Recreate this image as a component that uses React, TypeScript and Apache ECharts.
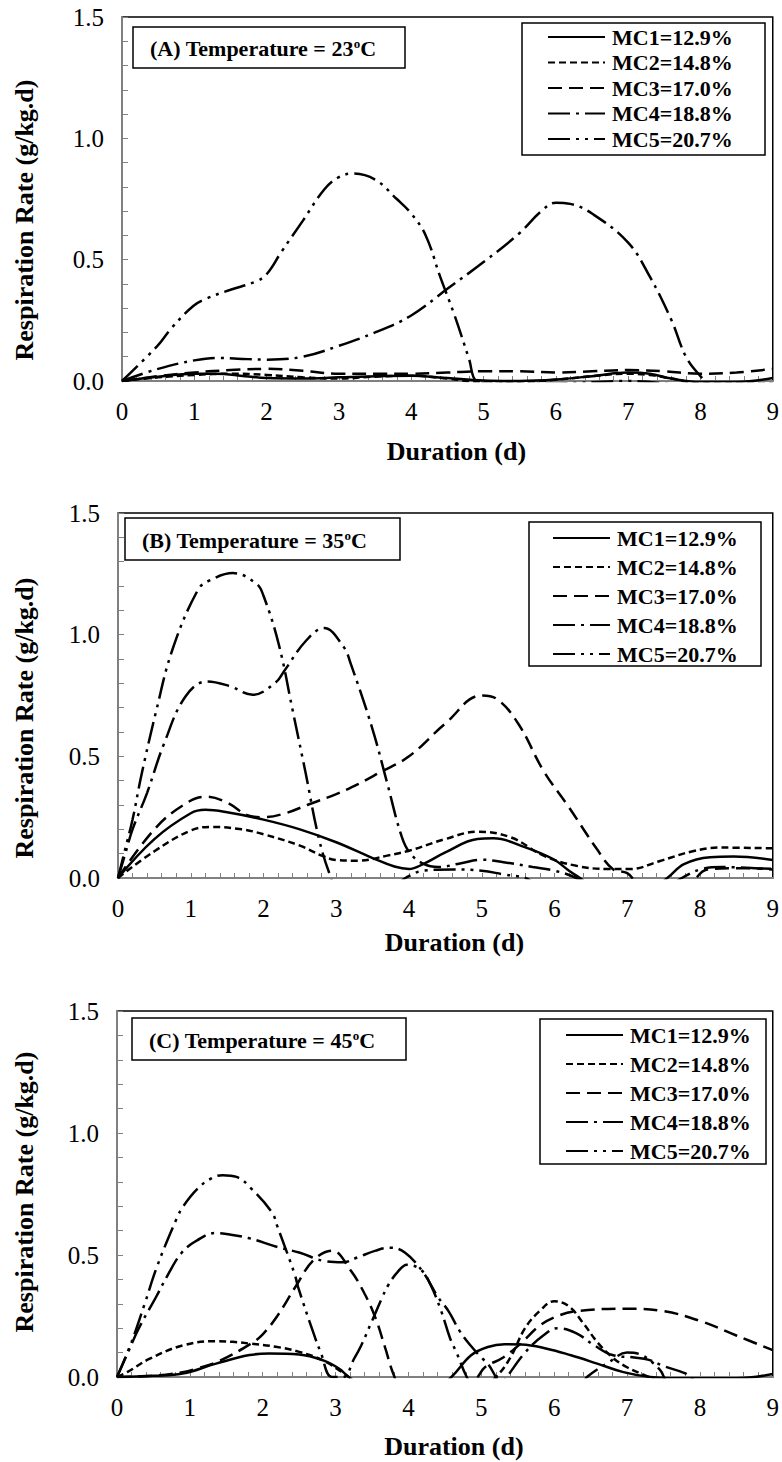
import React, { useEffect, useRef } from "react";
import * as echarts from "echarts";

const NAMES = ["MC1=12.9%", "MC2=14.8%", "MC3=17.0%", "MC4=18.8%", "MC5=20.7%"];
const PANEL_TEXT = ["(A) Temperature = 23{s|o}C", "(B) Temperature = 35{s|o}C", "(C) Temperature = 45{s|o}C"];
const X_TITLE = "Duration (d)";
const Y_TITLE = "Respiration Rate (g/kg.d)";

type P = [number, number][];

// Panel A (23 C)
const A_MC1: P = [[0,0],[0.5,0.018],[1,0.03],[1.3,0.03],[1.7,0.02],[2,0.012],[2.5,0.01],[3,0.015],[3.5,0.02],[4,0.022],[4.5,0.012],[5,0.002],[5.5,0],[6,0.006],[6.5,0.02],[7,0.035],[7.3,0.03],[7.6,0.01],[8,-0.004],[8.5,-0.004],[9,0.012]];
const A_MC2: P = [[0,0],[0.5,0.015],[1,0.025],[1.5,0.03],[2,0.025],[2.5,0.015],[3,0.01],[3.5,0.018],[4,0.022],[4.5,0.01],[5,-0.005],[5.5,-0.005],[6,0.005],[6.5,0.02],[7,0.03],[7.3,0.025],[7.6,0.01],[8,-0.01],[9,-0.01]];
const A_MC3: P = [[0,0],[0.5,0.02],[1,0.035],[1.5,0.045],[2,0.05],[2.5,0.042],[3,0.03],[3.5,0.03],[4,0.03],[4.5,0.035],[5,0.04],[5.5,0.04],[6,0.035],[6.5,0.04],[7,0.045],[7.5,0.04],[8,0.03],[8.5,0.035],[9,0.05]];
const A_MC4: P = [[0,0],[0.5,0.05],[1,0.085],[1.3,0.095],[1.6,0.092],[2,0.088],[2.5,0.1],[3,0.145],[3.5,0.2],[4,0.27],[4.5,0.38],[5,0.49],[5.5,0.61],[5.8,0.7],[6,0.735],[6.2,0.73],[6.5,0.69],[7,0.57],[7.3,0.43],[7.6,0.25],[7.8,0.1],[8,0.02],[8.2,-0.03],[9,-0.03]];
const A_MC5: P = [[0,0],[0.49,0.145],[0.69,0.22],[0.99,0.31],[1.17,0.34],[1.49,0.375],[1.85,0.41],[2,0.44],[2.2,0.53],[2.5,0.66],[2.8,0.79],[3,0.84],[3.2,0.855],[3.5,0.83],[3.8,0.75],[4,0.69],[4.2,0.6],[4.4,0.43],[4.6,0.27],[4.8,0.09],[4.9,0],[5.1,-0.01],[6,-0.01],[7,0],[8,-0.02],[9,-0.02]];

// Panel B (35 C)
const B_MC1: P = [[0,0],[0.5,0.16],[1,0.266],[1.2,0.28],[1.5,0.27],[2,0.24],[2.5,0.2],[3,0.147],[3.5,0.082],[3.8,0.047],[4,0.037],[4.2,0.058],[4.5,0.105],[4.94,0.16],[5.16,0.163],[5.6,0.126],[5.98,0.078],[6.2,0.03],[6.35,0],[6.6,-0.05],[7.3,-0.05],[7.55,0],[7.78,0.057],[8.14,0.085],[8.46,0.088],[9,0.074]];
const B_MC2: P = [[0,0],[0.5,0.11],[1,0.195],[1.3,0.21],[1.7,0.2],[2,0.18],[2.5,0.133],[2.8,0.092],[3,0.074],[3.3,0.071],[3.7,0.092],[4,0.112],[4.5,0.16],[4.94,0.19],[5.4,0.167],[5.85,0.092],[6.3,0.05],[6.76,0.037],[7.04,0.037],[7.45,0.07],[7.9,0.11],[8.27,0.125],[9,0.122]];
const B_MC3: P = [[0,0],[0.5,0.2],[0.9,0.3],[1.2,0.334],[1.5,0.31],[1.8,0.256],[2,0.25],[2.3,0.266],[2.6,0.3],[3,0.345],[3.3,0.386],[3.6,0.434],[4,0.5],[4.5,0.635],[5,0.75],[5.2,0.737],[5.5,0.635],[5.85,0.44],[6.2,0.29],[6.58,0.12],[6.8,0.037],[7,0.02],[7.2,-0.03],[7.8,-0.03],[8.1,0.035],[8.5,0.04],[9,0.038]];
const B_MC4: P = [[0,0],[0.1,0.1],[0.2,0.2],[0.4,0.35],[0.63,0.55],[0.93,0.747],[1.23,0.808],[1.54,0.788],[1.85,0.753],[2.17,0.804],[2.28,0.849],[2.59,0.977],[2.83,1.027],[3.1,0.95],[3.2,0.88],[3.5,0.61],[3.7,0.39],[3.9,0.17],[4.02,0.1],[4.2,0.058],[4.4,0.045],[4.7,0.06],[5,0.075],[5.3,0.065],[5.7,0.045],[6,0.03],[6.3,0],[6.5,-0.04],[7.5,-0.04],[7.75,0],[8,0.035],[8.3,0.045],[9,0.035]];
const B_MC5: P = [[0,0],[0.1,0.12],[0.2,0.24],[0.32,0.42],[0.52,0.68],[0.75,0.94],[1.1,1.185],[1.26,1.223],[1.58,1.253],[1.9,1.21],[2,1.16],[2.21,0.96],[2.4,0.69],[2.58,0.43],[2.76,0.164],[2.92,0.007],[3,-0.03],[3.8,-0.03],[3.95,0],[4.2,0.03],[4.6,0.035],[5,0.03],[5.3,0.015],[5.6,0],[5.8,-0.03],[9,-0.03]];

// Panel C (45 C)
const C_MC1: P = [[0,0],[0.5,0.005],[0.9,0.014],[1.36,0.055],[1.82,0.09],[2.09,0.096],[2.5,0.092],[2.82,0.069],[3.05,0.034],[3.18,0],[3.4,-0.04],[4.4,-0.04],[4.59,0],[4.86,0.089],[5.09,0.123],[5.32,0.134],[5.55,0.133],[5.9,0.116],[6.23,0.089],[6.59,0.055],[6.95,0.02],[7.32,0],[7.7,-0.005],[8.5,-0.005],[9,0.012]];
const C_MC2: P = [[0,0],[0.14,0.02],[0.45,0.075],[0.91,0.13],[1.36,0.147],[1.59,0.144],[1.82,0.137],[2.18,0.124],[2.5,0.103],[2.82,0.069],[3.09,0.02],[3.18,0],[3.4,-0.04],[5,-0.04],[5.2,0],[5.4,0.08],[5.6,0.2],[5.8,0.27],[6,0.31],[6.2,0.29],[6.4,0.22],[6.6,0.14],[6.8,0.08],[7,0.04],[7.3,0],[7.5,-0.03],[9,-0.03]];
const C_MC3: P = [[0,0],[0.5,0.005],[0.9,0.02],[1.1,0.035],[1.4,0.065],[1.84,0.137],[2,0.175],[2.2,0.25],[2.45,0.37],[2.7,0.48],[2.95,0.518],[3.2,0.44],[3.4,0.34],[3.55,0.24],[3.68,0.12],[3.8,0.007],[3.9,-0.04],[4.8,-0.04],[4.95,0],[5.05,0.04],[5.3,0.08],[5.55,0.14],[5.8,0.21],[6.05,0.25],[6.3,0.27],[7,0.28],[7.5,0.27],[8,0.23],[8.5,0.17],[9,0.11]];
const C_MC4: P = [[0,0],[0.15,0.1],[0.3,0.2],[0.54,0.33],[0.7,0.42],[0.89,0.51],[1.1,0.56],[1.35,0.59],[1.5,0.586],[1.8,0.57],[2.2,0.533],[2.5,0.51],[2.87,0.474],[3.1,0.47],[3.3,0.49],[3.55,0.518],[3.75,0.53],[3.95,0.51],[4.2,0.43],[4.4,0.33],[4.55,0.27],[4.7,0.19],[4.85,0.13],[5,0.08],[5.1,0.05],[5.2,0],[5.27,-0.03],[5.35,0],[5.6,0.1],[5.85,0.17],[6.05,0.2],[6.3,0.18],[6.55,0.13],[6.8,0.09],[7.1,0.08],[7.3,0.07],[7.5,0.045],[7.8,0.015],[8,-0.02],[9,-0.02]];
const C_MC5: P = [[0,0],[0.2,0.144],[0.38,0.3],[0.55,0.453],[0.82,0.65],[0.91,0.7],[1.1,0.77],[1.3,0.815],[1.45,0.827],[1.64,0.82],[1.85,0.77],[2.13,0.673],[2.2,0.618],[2.44,0.42],[2.49,0.364],[2.72,0.16],[2.79,0.106],[2.95,0],[3.1,0],[3.26,0.078],[3.35,0.128],[3.5,0.23],[3.64,0.326],[3.72,0.375],[3.85,0.43],[3.98,0.46],[4.17,0.44],[4.3,0.38],[4.45,0.27],[4.57,0.16],[4.66,0.1],[4.8,0],[4.9,-0.04],[6.35,-0.04],[6.45,0],[6.75,0.06],[7,0.1],[7.2,0.09],[7.45,0.03],[7.6,-0.03],[9,-0.03]];

const PANELS: P[][] = [
  [A_MC1, A_MC2, A_MC3, A_MC4, A_MC5],
  [B_MC1, B_MC2, B_MC3, B_MC4, B_MC5],
  [C_MC1, C_MC2, C_MC3, C_MC4, C_MC5],
];

const FONT = "Liberation Serif";
const DASHES: any[] = ["solid", [7, 4], [14, 7], [22, 6, 3, 6], [22, 6, 3, 6, 3, 6]];

// layout (px)
const GRIDS = [
  { left: 122, top: 17, width: 654, height: 364 },
  { left: 118, top: 513, width: 657, height: 365 },
  { left: 117, top: 1011, width: 660, height: 366 },
];
const NAME_GAP = [57, 51, 56];
const YTITLE_Y = [220, 718, 1192];
const LEGEND_BOX = [
  { x: 522, y: 23, w: 243, h: 132, left: 547, top: 26, gap: 3.5 },
  { x: 529, y: 522, w: 232, h: 144, left: 552, top: 527, gap: 7 },
  { x: 540, y: 1019, w: 226, h: 145, left: 565, top: 1024, gap: 7 },
];
const NOTE_BOX = [
  { x: 133, y: 27, w: 272, h: 41, tx: 150, ty: 48 },
  { x: 125, y: 518, w: 275, h: 42, tx: 142, ty: 540 },
  { x: 132, y: 1018, w: 274, h: 42, tx: 149, ty: 1040 },
];

export default function App() {
  const ref = useRef<HTMLDivElement>(null);
  useEffect(() => {
    if (!ref.current) return;
    const chart = echarts.init(ref.current, undefined, { renderer: "svg" });
    const grid = GRIDS.map((g) => ({ ...g, show: true, borderColor: "#000", borderWidth: 1.5, backgroundColor: "transparent" }));
    const xAxis = GRIDS.map((_, p) => ({
      type: "value", gridIndex: p, min: 0, max: 9, interval: 0.2,
      axisLine: { show: true, onZero: false, lineStyle: { color: "#808080", width: 2 } },
      axisTick: { show: true, inside: true, length: 5, lineStyle: { color: "#808080", width: 1 } },
      splitLine: { show: false },
      axisLabel: {
        formatter: (v: number) => (Math.abs(v - Math.round(v)) < 1e-6 ? String(Math.round(v)) : ""),
        fontFamily: FONT, fontSize: 25, fontWeight: "normal", color: "#000", margin: 18,
      },
      name: X_TITLE, nameLocation: "middle", nameGap: NAME_GAP[p],
      nameTextStyle: { fontFamily: FONT, fontSize: 26, fontWeight: "bold", color: "#000", padding: [0, 0, 0, 18] },
    }));
    const yAxis = GRIDS.map((_, p) => ({
      type: "value", gridIndex: p, min: 0, max: 1.5, interval: 0.1,
      axisLine: { show: true, onZero: false, lineStyle: { color: "#808080", width: 2 } },
      axisTick: { show: true, inside: true, length: 6, lineStyle: { color: "#808080", width: 1 } },
      splitLine: { show: false },
      axisLabel: {
        formatter: (v: number) => (Math.abs(v * 2 - Math.round(v * 2)) < 1e-6 ? v.toFixed(1) : ""),
        fontFamily: FONT, fontSize: 25, fontWeight: "normal", color: "#000", margin: 18,
      },
    }));
    const series: any[] = [];
    PANELS.forEach((list, p) => {
      list.forEach((data, i) => {
        series.push({
          type: "line", name: NAMES[i], xAxisIndex: p, yAxisIndex: p, data,
          smooth: 0.4, symbol: "none", showSymbol: false, clip: true,
          lineStyle: { color: "#000", width: 2.5, type: DASHES[i] },
          itemStyle: { color: "#000" },
        });
      });
    });
    const legend = LEGEND_BOX.map((b) => ({
      orient: "vertical", left: b.left, top: b.top, padding: 0, itemGap: b.gap,
      itemWidth: 57, itemHeight: 14, data: NAMES, selectedMode: false,
      itemStyle: { opacity: 0, borderWidth: 0 },
      textStyle: { fontFamily: FONT, fontSize: 22, fontWeight: "bold", color: "#000", padding: [0, 0, 0, 2] },
    }));
    const graphic: any[] = [];
    LEGEND_BOX.forEach((b) => {
      graphic.push({ type: "rect", z: 1, shape: { x: b.x, y: b.y, width: b.w, height: b.h }, style: { fill: "#fff", stroke: "#000", lineWidth: 1.5 } });
    });
    NOTE_BOX.forEach((b, p) => {
      graphic.push({ type: "rect", z: 1, shape: { x: b.x, y: b.y, width: b.w, height: b.h }, style: { fill: "#fff", stroke: "#000", lineWidth: 1.5 } });
      graphic.push({
        type: "text", z: 5, x: b.tx, y: b.ty,
        style: {
          text: PANEL_TEXT[p], fontFamily: FONT, fontSize: 22, fontWeight: "bold", fill: "#000",
          align: "left", verticalAlign: "middle",
          rich: { s: { fontFamily: FONT, fontSize: 13, fontWeight: "bold", fill: "#000", verticalAlign: "top", lineHeight: 13 } },
        },
      });
    });
    YTITLE_Y.forEach((y) => {
      graphic.push({
        type: "text", z: 5, x: 24, y, rotation: Math.PI / 2,
        style: { text: Y_TITLE, fontFamily: FONT, fontSize: 26, fontWeight: "bold", fill: "#000", align: "center", verticalAlign: "middle" },
      });
    });
    chart.setOption({
      animation: false, backgroundColor: "#fff",
      textStyle: { fontFamily: FONT, color: "#000" },
      grid, xAxis, yAxis, series, legend, graphic,
    });
    return () => chart.dispose();
  }, []);
  return <div ref={ref} style={{ position: "absolute", left: 0, top: 0, width: 782, height: 1462 }} />;
}
